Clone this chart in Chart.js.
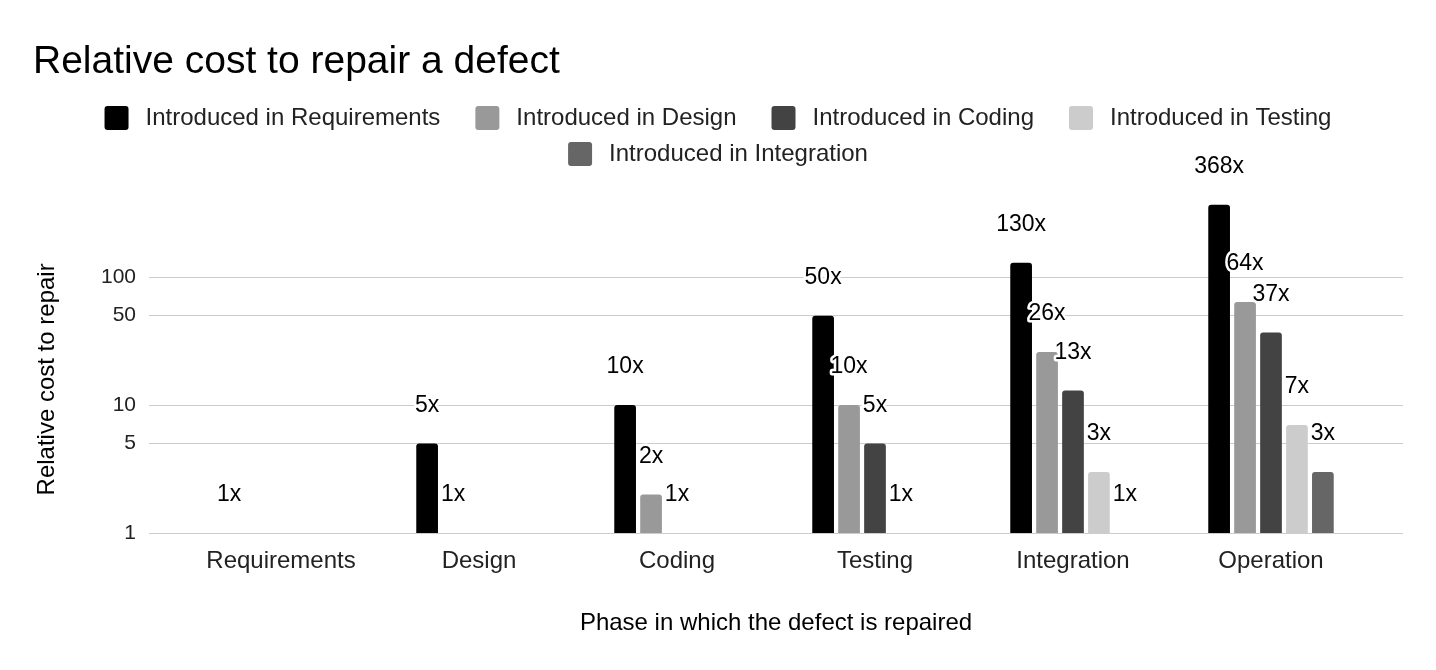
<!DOCTYPE html>
<html>
<head>
<meta charset="utf-8">
<script src="https://cdn.jsdelivr.net/npm/chart.js@4"></script>
<style>
  body { margin: 0; background: #fff; }
</style>
</head>
<body>
<canvas id="myChart" width="1436" height="670"></canvas>
<script>
const phases = ['Requirements', 'Design', 'Coding', 'Testing', 'Integration', 'Operation'];
const yTicks = [1, 5, 10, 50, 100];

const inRequirements = [1, 5, 10, 50, 130, 368];
const inDesign       = [null, 1, 2, 10, 26, 64];
const inCoding       = [null, null, 1, 5, 13, 37];
const inTesting      = [null, null, null, 1, 3, 7];
const inIntegration  = [null, null, null, null, 1, 3];

const seriesNames  = ['Introduced in Requirements', 'Introduced in Design', 'Introduced in Coding', 'Introduced in Testing', 'Introduced in Integration'];
const seriesColors = ['#000000', '#999999', '#434343', '#cccccc', '#666666'];
const seriesData   = [inRequirements, inDesign, inCoding, inTesting, inIntegration];

const yTitle = 'Relative cost to repair';

Chart.defaults.font.family = '"Liberation Sans", Arial, sans-serif';
Chart.defaults.color = '#222222';

const gridColor = '#cccccc';

// value labels ("368x") with a white halo, drawn above every bar
const valueLabels = {
  id: 'valueLabels',
  afterDatasetsDraw(chart) {
    const ctx = chart.ctx;
    ctx.save();
    ctx.font = '23px "Liberation Sans", Arial, sans-serif';
    ctx.textAlign = 'center';
    ctx.textBaseline = 'middle';
    ctx.lineJoin = 'round';
    chart.data.datasets.forEach((ds, i) => {
      chart.getDatasetMeta(i).data.forEach((bar, j) => {
        const v = ds.data[j];
        if (v == null) return;
        const txt = v + 'x';
        const y = bar.y - 38;
        ctx.lineWidth = 5;
        ctx.strokeStyle = '#ffffff';
        ctx.strokeText(txt, bar.x, y);
        ctx.fillStyle = '#000000';
        ctx.fillText(txt, bar.x, y);
      });
    });
    ctx.restore();
  }
};

// legend in centred rows, plus the y axis title (sits a bit below the axis middle)
const legendRows = {
  id: 'legendRows',
  afterDraw(chart) {
    const ctx = chart.ctx;
    ctx.save();
    ctx.font = '24px "Liberation Sans", Arial, sans-serif';
    ctx.textBaseline = 'middle';
    const box = 24, gap = 17, itemGap = 35, maxRow = 1300;
    const items = chart.data.datasets.map(ds => ({
      text: ds.label,
      color: ds.backgroundColor,
      w: box + gap + ctx.measureText(ds.label).width
    }));
    const rows = [[]];
    const rowW = [0];
    items.forEach(it => {
      let r = rows.length - 1;
      const add = (rows[r].length ? itemGap : 0) + it.w;
      if (rows[r].length && rowW[r] + add > maxRow) {
        rows.push([it]);
        rowW.push(it.w);
      } else {
        rows[r].push(it);
        rowW[r] += add;
      }
    });
    rows.forEach((row, r) => {
      let x = chart.width / 2 - rowW[r] / 2;
      const y = 118 + r * 36;
      row.forEach(it => {
        ctx.fillStyle = it.color;
        ctx.beginPath();
        ctx.roundRect(x, y - box / 2, box, box, 3);
        ctx.fill();
        ctx.fillStyle = '#222222';
        ctx.fillText(it.text, x + box + gap, y);
        x += it.w + itemGap;
      });
    });

    const yScale = chart.scales.y;
    ctx.translate(yScale.left + 14.5, (chart.chartArea.top + chart.chartArea.bottom) / 2 + 19);
    ctx.rotate(-Math.PI / 2);
    ctx.textAlign = 'center';
    ctx.fillStyle = '#000000';
    ctx.fillText(yTitle, 0, 0);
    ctx.restore();
  }
};

const setTicks = scale => { scale.ticks = yTicks.map(v => ({ value: v })); };

const data = {
  labels: phases,
  datasets: seriesNames.map((name, i) => ({
    label: name,
    data: seriesData[i],
    backgroundColor: seriesColors[i],
    borderRadius: 3,
    categoryPercentage: 0.655,
    barPercentage: 0.837
  }))
};

const config = {
  type: 'bar',
  data: data,
  options: {
    responsive: false,
    animation: false,
    layout: { padding: { left: 33, right: 33, top: 0, bottom: 0 } },
    plugins: {
      legend: { display: false },
      tooltip: { enabled: false },
      title: {
        display: true,
        text: 'Relative cost to repair a defect',
        align: 'start',
        color: '#000000',
        font: { size: 39, weight: 'normal' },
        padding: { top: 39, bottom: 102 }
      }
    },
    scales: {
      x: {
        grid: { display: false },
        border: { display: false },
        ticks: { font: { size: 24 }, padding: 6, maxRotation: 0, autoSkip: false },
        title: {
          display: true,
          text: 'Phase in which the defect is repaired',
          color: '#000000',
          font: { size: 24 },
          padding: { top: 0, bottom: 32 }
        },
        afterFit: scale => { scale.height = 137; }
      },
      y: {
        type: 'logarithmic',
        position: 'left',
        min: 1,
        max: 500,
        afterBuildTicks: setTicks,
        grid: { color: gridColor, tickLength: 33 },
        border: { display: false },
        ticks: { font: { size: 21 }, padding: 13, callback: v => String(v) },
        afterFit: scale => { scale.width = 149; }
      },
      y2: {
        type: 'logarithmic',
        position: 'right',
        min: 1,
        max: 500,
        afterBuildTicks: setTicks,
        grid: { color: gridColor, tickLength: 33, drawOnChartArea: false },
        border: { display: false },
        ticks: { display: false }
      }
    }
  },
  plugins: [valueLabels, legendRows]
};

const myChart = new Chart(document.getElementById('myChart'), config);
</script>
</body>
</html>
